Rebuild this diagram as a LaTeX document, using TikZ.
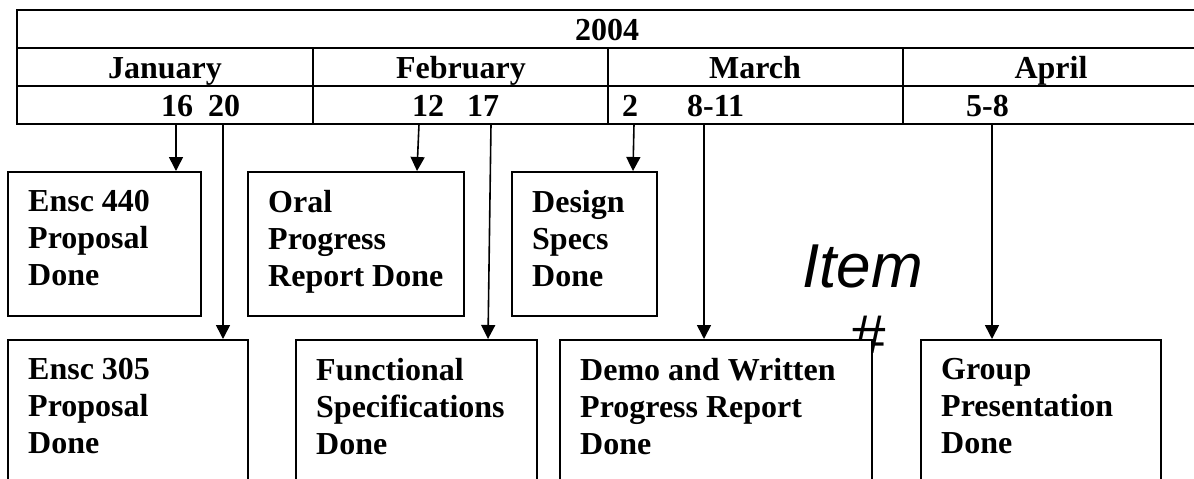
\documentclass[tikz,border=0pt]{standalone}
\usepackage{fontspec}
\setmainfont{Liberation Serif}
\newfontfamily\itemfam{Liberation Sans}
\usetikzlibrary{arrows.meta,calc}
\newcommand\tbf{\fontsize{32}{37}\selectfont\bfseries}
\tikzset{
  cellline/.style={line width=2pt},
  box/.style={draw, rectangle, line width=1.6pt, fill=white, inner sep=0pt, anchor=north west},
  lbl/.style={font=\tbf, align=left, inner sep=0pt, anchor=north west},
  hdr/.style={font=\tbf, inner sep=0pt, anchor=base},
  datel/.style={font=\tbf, inner sep=0pt, anchor=base west},
  arr/.style={line width=1.6pt, -{Triangle[width=14pt,length=14pt]}},
  itemtxt/.style={font=\itemfam\fontsize{62}{72}\selectfont\itshape, inner sep=0pt, anchor=base west}
}
\begin{document}
\begin{tikzpicture}[x=1pt,y=-1pt]
\useasboundingbox (0,0) rectangle (1194,479);
\begin{scope}
\clip (0,0) rectangle (1194,479);
% table
\draw[cellline] (17,10) rectangle (1198,124);
\draw[cellline] (17,48) -- (1198,48);
\draw[cellline] (17,86) -- (1198,86);
\draw[cellline] (313,48) -- (313,124);
\draw[cellline] (608,48) -- (608,124);
\draw[cellline] (903,48) -- (903,124);
\node[hdr] (year) at (607,40) {2004};
\node[hdr] (jan) at (165,78) {January};
\node[hdr] (feb) at (461,78) {February};
\node[hdr] (mar) at (755,78) {March};
\node[hdr] (apr) at (1051,78) {April};
\node[datel] (d16) at (161,116) {16};
\node[datel] (d20) at (208,116) {20};
\node[datel] (d12) at (412,116) {12};
\node[datel] (d17) at (467,116) {17};
\node[datel] (d2) at (622,116) {2};
\node[datel] (d811) at (687,116) {8-11};
\node[datel] (d58) at (966,116) {5-8};
% Item #
\node[itemtxt] (item) at (802,287) {Item};
\begin{scope}
\clip (0,0) rectangle (1194,352);
\node[itemtxt] (hash) at (850,358) {\#};
\end{scope}
% boxes
\node[box, minimum width=193, minimum height=144] (b1) at (7,171) {};
\node[box, minimum width=216, minimum height=144] (b2) at (247,171) {};
\node[box, minimum width=145, minimum height=144] (b3) at (511,171) {};
\node[box, minimum width=240, minimum height=200] (b4) at (7,339) {};
\node[box, minimum width=241, minimum height=200] (b5) at (295,339) {};
\node[box, minimum width=312, minimum height=200] (b6) at (559,339) {};
\node[box, minimum width=240, minimum height=200] (b7) at (920,339) {};
% texts
\node[lbl] (t1) at (28,190) {Ensc 440\\Proposal\\Done};
\node[lbl] (t2) at (268,190) {Oral\\Progress\\Report Done};
\node[lbl] (t3) at (532,190) {Design\\Specs\\Done};
\node[lbl] (t4) at (28,358) {Ensc 305\\Proposal\\Done};
\node[lbl] (t5) at (316,358) {Functional\\Specifications\\Done};
\node[lbl] (t6) at (580,358) {Demo and Written\\Progress Report\\Done};
\node[lbl] (t7) at (941,358) {Group\\Presentation\\Done};
% arrows
\coordinate (a16) at (176,124);
\coordinate (a20) at (223,124);
\coordinate (a12) at (419,124);
\coordinate (a17) at (491,124);
\coordinate (a2) at (634,124);
\coordinate (a811) at (704,124);
\coordinate (a58) at (992,124);
\draw[arr] (a16) -- (a16 |- b1.north);
\draw[arr] (a20) -- (a20 |- b4.north);
\draw[arr] (a12) -- ($(b2.north west)+(170,0)$);
\draw[arr] (a17) -- ($(b5.north west)+(193,0)$);
\draw[arr] (a2) -- ($(b3.north west)+(122,0)$);
\draw[arr] (a811) -- (a811 |- b6.north);
\draw[arr] (a58) -- (a58 |- b7.north);
\end{scope}
\end{tikzpicture}
\end{document}
